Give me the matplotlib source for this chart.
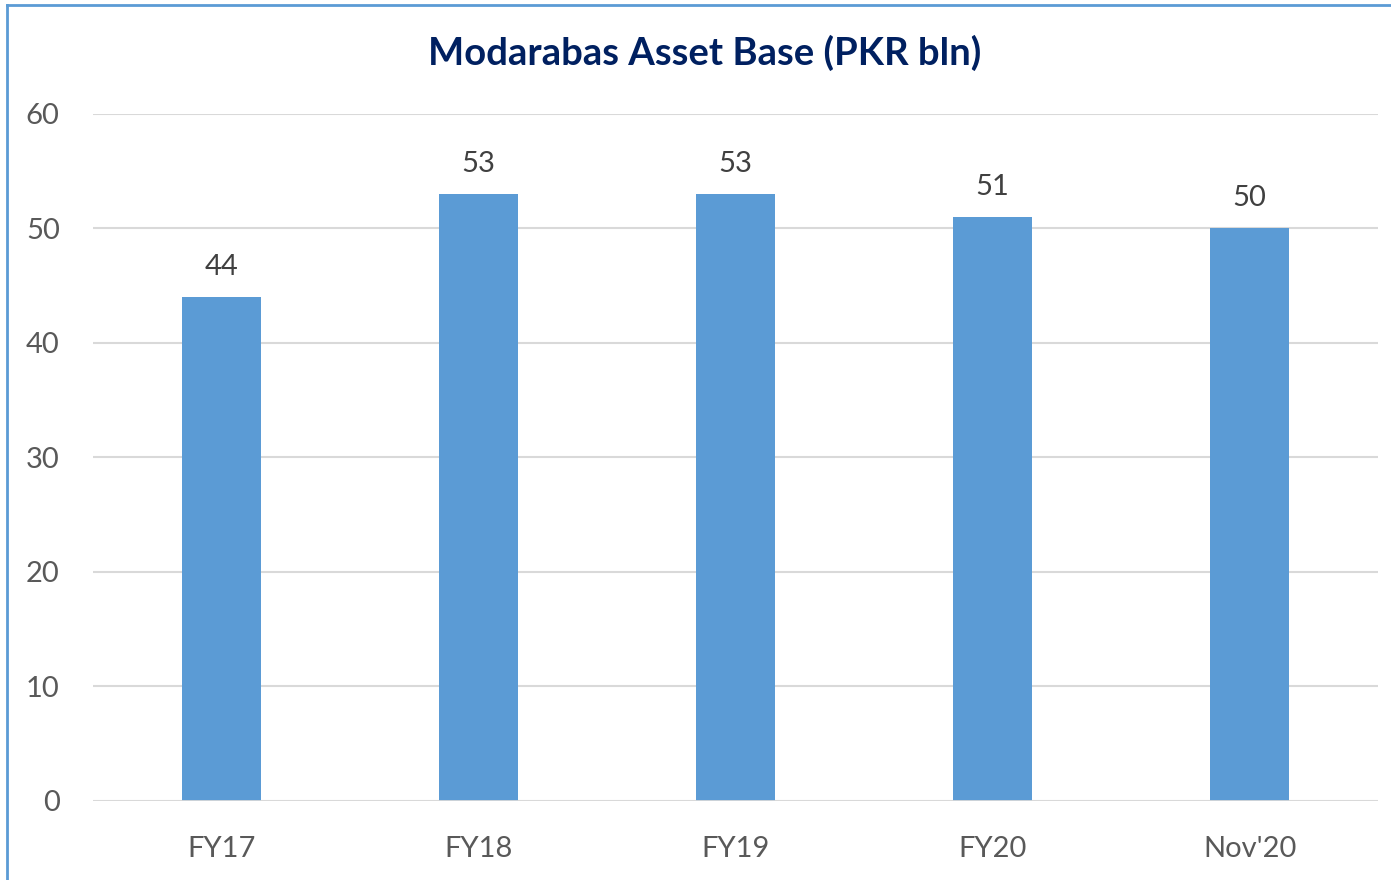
import matplotlib.pyplot as plt
from matplotlib.lines import Line2D

categories = ["FY17", "FY18", "FY19", "FY20", "Nov'20"]
values = [44, 53, 53, 51, 50]

plt.rcParams['font.family'] = ['Lato', 'DejaVu Sans']

fig = plt.figure(figsize=(13.91, 8.80), dpi=100)
ax = fig.add_axes([0.0669, 0.0898, 0.9238, 0.7807])

x = range(len(categories))
ax.bar(x, values, width=0.31, color='#5B9BD5', zorder=3)
for xi, v in zip(x, values):
    ax.text(xi, v + 1.5, str(v), ha='center', va='bottom', fontsize=21, color='#404040')

ax.set_xlim(-0.5, len(categories) - 0.5)
ax.set_ylim(0, 60)
ax.set_yticks(range(0, 61, 10))
ax.set_xticks(list(x))
ax.set_xticklabels(categories)
ax.tick_params(axis='both', length=0, labelsize=21, labelcolor='#595959')
ax.tick_params(axis='x', pad=25)
ax.tick_params(axis='y', pad=24)
ax.grid(axis='y', color='#d9d9d9', linewidth=1.5, zorder=0)
for s in ax.spines.values():
    s.set_visible(False)
ax.axhline(0, color='#d9d9d9', linewidth=2, zorder=4)

fig.text(0.5065, 0.94, "Modarabas Asset Base (PKR bln)", ha='center', va='center',
         fontsize=27.5, fontweight='bold', color='#002060')

# outer chart border (left and top visible)
fig.add_artist(Line2D([7/1391, 7/1391], [0, 1 - 5/880], transform=fig.transFigure, color='#5B9BD5', linewidth=2))
fig.add_artist(Line2D([7/1391, 1], [1 - 5/880, 1 - 5/880], transform=fig.transFigure, color='#5B9BD5', linewidth=2))

fig.savefig('out.png', dpi=100)
